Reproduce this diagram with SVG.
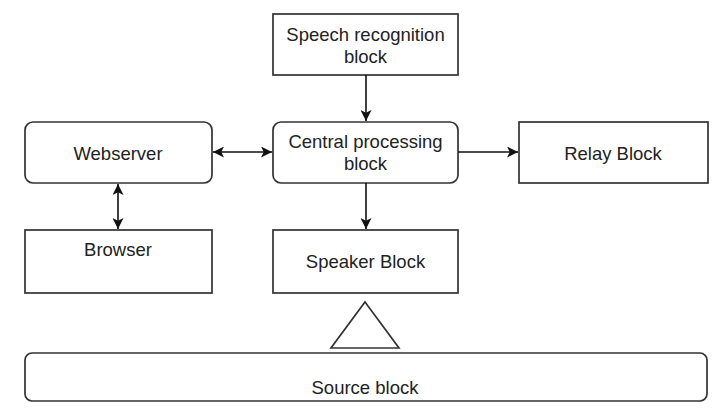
<svg xmlns="http://www.w3.org/2000/svg" width="727" height="416" viewBox="0 0 727 416">
<defs>
<marker id="ah" viewBox="0 0 10 10" refX="10" refY="5" markerWidth="11" markerHeight="11" markerUnits="userSpaceOnUse" orient="auto-start-reverse">
<path d="M0,0 L10,5 L0,10 L2.5,5 Z" fill="#111"/>
</marker>
</defs>
<style>
.box{fill:#fff;stroke:#333;stroke-width:1.7}
.t{font-family:"Liberation Sans",Arial,sans-serif;font-size:18.5px;fill:#222;text-anchor:middle}
.c{fill:none;stroke:#111;stroke-width:1.6}
</style>
<rect width="727" height="416" fill="#fff"/>
<g id="speech">
<rect class="box" x="273" y="14" width="185" height="61"/>
<text class="t" x="365.5" y="41">Speech recognition</text>
<text class="t" x="365.5" y="63">block</text>
</g>
<g id="central">
<rect class="box" x="273" y="122" width="185" height="61" rx="8"/>
<text class="t" x="365.5" y="148">Central processing</text>
<text class="t" x="365.5" y="170">block</text>
</g>
<g id="webserver">
<rect class="box" x="25" y="122" width="187" height="61" rx="8"/>
<text class="t" x="118" y="160">Webserver</text>
</g>
<g id="relay">
<rect class="box" x="519" y="122" width="189" height="61"/>
<text class="t" x="613" y="160">Relay Block</text>
</g>
<g id="browser">
<rect class="box" x="25" y="230" width="187" height="63"/>
<text class="t" x="118" y="256">Browser</text>
</g>
<g id="speaker">
<rect class="box" x="273" y="230" width="185" height="63"/>
<text class="t" x="365.5" y="268">Speaker Block</text>
</g>
<g id="triangle">
<polygon class="box" points="365,302 399,348 331,348"/>
</g>
<g id="source">
<rect class="box" x="25" y="353" width="682" height="48" rx="7"/>
<text class="t" x="365" y="394">Source block</text>
</g>
<g id="connectors">
<line class="c" x1="366" y1="75" x2="366" y2="121" marker-end="url(#ah)"/>
<line class="c" x1="213" y1="152" x2="272" y2="152" marker-start="url(#ah)" marker-end="url(#ah)"/>
<line class="c" x1="458" y1="152" x2="518" y2="152" marker-end="url(#ah)"/>
<line class="c" x1="366" y1="183" x2="366" y2="229" marker-end="url(#ah)"/>
<line class="c" x1="118" y1="184" x2="118" y2="229" marker-start="url(#ah)" marker-end="url(#ah)"/>
</g>
</svg>
